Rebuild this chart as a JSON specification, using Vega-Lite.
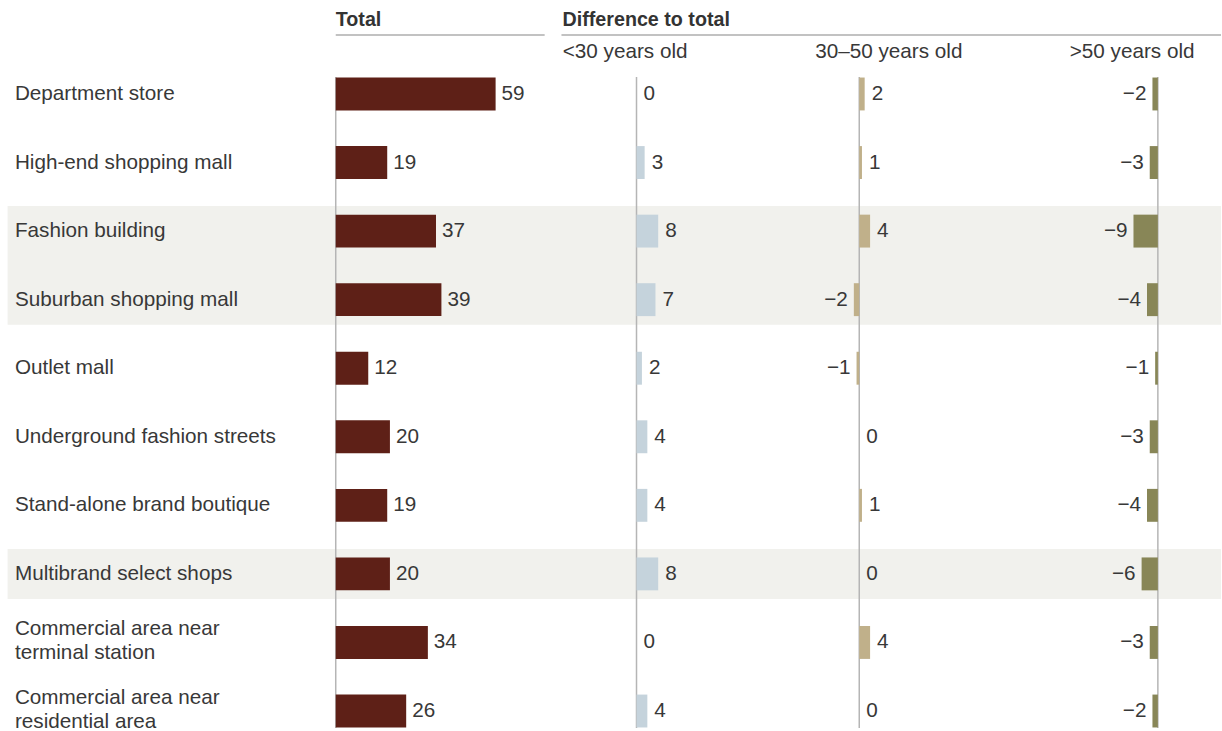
{
  "$schema": "https://vega.github.io/schema/vega-lite/v6.json",
  "width": 1222,
  "height": 731,
  "autosize": {"type": "fit", "contains": "padding"},
  "padding": 0,
  "background": "white",
  "config": {"view": {"stroke": null}, "font": "Liberation Sans"},
  "datasets": {
    "rows": [
      {"label": "Department store", "total": 59, "u30": 0, "m3050": 2, "o50": -2},
      {"label": "High-end shopping mall", "total": 19, "u30": 3, "m3050": 1, "o50": -3},
      {"label": "Fashion building", "total": 37, "u30": 8, "m3050": 4, "o50": -9},
      {"label": "Suburban shopping mall", "total": 39, "u30": 7, "m3050": -2, "o50": -4},
      {"label": "Outlet mall", "total": 12, "u30": 2, "m3050": -1, "o50": -1},
      {"label": "Underground fashion streets", "total": 20, "u30": 4, "m3050": 0, "o50": -3},
      {"label": "Stand-alone brand boutique", "total": 19, "u30": 4, "m3050": 1, "o50": -4},
      {"label": "Multibrand select shops", "total": 20, "u30": 8, "m3050": 0, "o50": -6},
      {"label": "Commercial area near\nterminal station", "total": 34, "u30": 0, "m3050": 4, "o50": -3},
      {"label": "Commercial area near\nresidential area", "total": 26, "u30": 4, "m3050": 0, "o50": -2}
    ],
    "bands": [
      {"from": "Fashion building", "to": "Suburban shopping mall"},
      {"from": "Multibrand select shops", "to": "Multibrand select shops"}
    ],
    "span": [
      {"from": "Department store", "to": "Commercial area near\nresidential area"}
    ],
    "one": [{"a": 1}]
  },
  "resolve": {"scale": {"x": "independent"}},
  "layer": [
    {
      "layer": [
        {
          "data": {"name": "bands"},
          "mark": {"type": "rect", "color": "#f1f1ed", "yOffset": -25, "y2Offset": 25},
          "encoding": {
            "x": {"datum": -121.1, "type": "quantitative", "scale": {"domain": [-123.9, 326.7], "nice": false, "zero": false}, "axis": null},
            "x2": {"datum": 326.7},
            "y": {"field": "from", "type": "nominal", "axis": null, "sort": null, "bandPosition": 0.5,
              "scale": {"domain": ["Department store", "High-end shopping mall", "Fashion building", "Suburban shopping mall", "Outlet mall", "Underground fashion streets", "Stand-alone brand boutique", "Multibrand select shops", "Commercial area near\nterminal station", "Commercial area near\nresidential area"], "range": [59.7, 745.3], "paddingInner": 0, "paddingOuter": 0}},
            "y2": {"field": "to"}
          }
        },
        {
          "data": {"name": "rows"},
          "transform": [{"filter": "indexof(datum.label, '\\n') < 0"}],
          "mark": {"type": "text", "align": "left", "baseline": "middle", "fontSize": 20.7, "lineBreak": "\n", "lineHeight": 24, "color": "#383838"},
          "encoding": {
            "x": {"datum": -118.4, "type": "quantitative", "scale": {"domain": [-123.9, 326.7], "nice": false, "zero": false}, "axis": null},
            "y": {"field": "label", "type": "nominal", "axis": null, "sort": null},
            "text": {"field": "label"}
          }
        },
        {
          "data": {"name": "rows"},
          "transform": [{"filter": "indexof(datum.label, '\\n') >= 0"}],
          "mark": {"type": "text", "align": "left", "baseline": "middle", "dy": -13, "fontSize": 20.7, "lineBreak": "\n", "lineHeight": 23.5, "color": "#383838"},
          "encoding": {
            "x": {"datum": -118.4, "type": "quantitative", "scale": {"domain": [-123.9, 326.7], "nice": false, "zero": false}, "axis": null},
            "y": {"field": "label", "type": "nominal", "axis": null, "sort": null},
            "text": {"field": "label"}
          }
        },
        {
          "data": {"name": "span"},
          "mark": {"type": "rule", "color": "#b5b5b5", "strokeWidth": 1.5, "yOffset": -17, "y2Offset": 17},
          "encoding": {
            "x": {"datum": 0, "type": "quantitative", "scale": {"domain": [-123.9, 326.7], "nice": false, "zero": false}, "axis": null},
            "y": {"field": "from", "type": "nominal", "axis": null, "sort": null, "bandPosition": 0.5},
            "y2": {"field": "to"}
          }
        },
        {
          "data": {"name": "rows"},
          "mark": {"type": "bar", "color": "#5e2017", "height": {"band": 0.48}},
          "encoding": {
            "x": {"field": "total", "type": "quantitative", "scale": {"domain": [-123.9, 326.7], "nice": false, "zero": false}, "axis": null},
            "y": {"field": "label", "type": "nominal", "axis": null, "sort": null}
          }
        },
        {
          "data": {"name": "rows"},
          "mark": {"type": "text", "align": "left", "baseline": "middle", "dx": 6, "fontSize": 20.7, "color": "#383838"},
          "encoding": {
            "x": {"field": "total", "type": "quantitative", "scale": {"domain": [-123.9, 326.7], "nice": false, "zero": false}, "axis": null},
            "y": {"field": "label", "type": "nominal", "axis": null, "sort": null},
            "text": {"field": "total", "type": "quantitative", "format": "d"}
          }
        },
        {
          "data": {"name": "one"},
          "mark": {"type": "text", "align": "left", "baseline": "middle", "fontSize": 19.7, "fontWeight": "bold", "color": "#333333", "text": "Total"},
          "encoding": {
            "x": {"datum": 0, "type": "quantitative", "scale": {"domain": [-123.9, 326.7], "nice": false, "zero": false}, "axis": null},
            "y": {"value": 20}
          }
        },
        {
          "data": {"name": "one"},
          "mark": {"type": "text", "align": "left", "baseline": "middle", "fontSize": 19.7, "fontWeight": "bold", "color": "#333333", "text": "Difference to total"},
          "encoding": {
            "x": {"datum": 83.7, "type": "quantitative", "scale": {"domain": [-123.9, 326.7], "nice": false, "zero": false}, "axis": null},
            "y": {"value": 20}
          }
        },
        {
          "data": {"name": "one"},
          "mark": {"type": "rule", "color": "#c2c2c2", "strokeWidth": 2},
          "encoding": {
            "x": {"datum": 0, "type": "quantitative", "scale": {"domain": [-123.9, 326.7], "nice": false, "zero": false}, "axis": null},
            "x2": {"datum": 77.1},
            "y": {"value": 35}
          }
        },
        {
          "data": {"name": "one"},
          "mark": {"type": "rule", "color": "#c2c2c2", "strokeWidth": 2},
          "encoding": {
            "x": {"datum": 83.3, "type": "quantitative", "scale": {"domain": [-123.9, 326.7], "nice": false, "zero": false}, "axis": null},
            "x2": {"datum": 326.7},
            "y": {"value": 35}
          }
        }
      ]
    },
    {
      "layer": [
        {
          "data": {"name": "span"},
          "mark": {"type": "rule", "color": "#b5b5b5", "strokeWidth": 1.5, "yOffset": -17, "y2Offset": 17},
          "encoding": {
            "x": {"datum": 0, "type": "quantitative", "scale": {"domain": [-234.9, 215.7], "nice": false, "zero": false}, "axis": null},
            "y": {"field": "from", "type": "nominal", "axis": null, "sort": null, "bandPosition": 0.5},
            "y2": {"field": "to"}
          }
        },
        {
          "data": {"name": "rows"},
          "mark": {"type": "bar", "color": "#c5d3dc", "height": {"band": 0.48}},
          "encoding": {
            "x": {"field": "u30", "type": "quantitative", "scale": {"domain": [-234.9, 215.7], "nice": false, "zero": false}, "axis": null},
            "y": {"field": "label", "type": "nominal", "axis": null, "sort": null}
          }
        },
        {
          "data": {"name": "rows"},
          "transform": [{"filter": "datum.u30 >= 0"}],
          "mark": {"type": "text", "align": "left", "baseline": "middle", "dx": 7, "fontSize": 20.7, "color": "#383838"},
          "encoding": {
            "x": {"field": "u30", "type": "quantitative", "scale": {"domain": [-234.9, 215.7], "nice": false, "zero": false}, "axis": null},
            "y": {"field": "label", "type": "nominal", "axis": null, "sort": null},
            "text": {"field": "u30", "type": "quantitative", "format": "d"}
          }
        },
        {
          "data": {"name": "one"},
          "mark": {"type": "text", "align": "center", "baseline": "middle", "fontSize": 20.7, "color": "#383838", "text": "<30 years old"},
          "encoding": {
            "x": {"datum": -4.2, "type": "quantitative", "scale": {"domain": [-234.9, 215.7], "nice": false, "zero": false}, "axis": null},
            "y": {"value": 52}
          }
        }
      ]
    },
    {
      "layer": [
        {
          "data": {"name": "span"},
          "mark": {"type": "rule", "color": "#b5b5b5", "strokeWidth": 1.5, "yOffset": -17, "y2Offset": 17},
          "encoding": {
            "x": {"datum": 0, "type": "quantitative", "scale": {"domain": [-317.1, 133.5], "nice": false, "zero": false}, "axis": null},
            "y": {"field": "from", "type": "nominal", "axis": null, "sort": null, "bandPosition": 0.5},
            "y2": {"field": "to"}
          }
        },
        {
          "data": {"name": "rows"},
          "mark": {"type": "bar", "color": "#c0b08a", "height": {"band": 0.48}},
          "encoding": {
            "x": {"field": "m3050", "type": "quantitative", "scale": {"domain": [-317.1, 133.5], "nice": false, "zero": false}, "axis": null},
            "y": {"field": "label", "type": "nominal", "axis": null, "sort": null}
          }
        },
        {
          "data": {"name": "rows"},
          "transform": [{"filter": "datum.m3050 >= 0"}],
          "mark": {"type": "text", "align": "left", "baseline": "middle", "dx": 7, "fontSize": 20.7, "color": "#383838"},
          "encoding": {
            "x": {"field": "m3050", "type": "quantitative", "scale": {"domain": [-317.1, 133.5], "nice": false, "zero": false}, "axis": null},
            "y": {"field": "label", "type": "nominal", "axis": null, "sort": null},
            "text": {"field": "m3050", "type": "quantitative", "format": "d"}
          }
        },
        {
          "data": {"name": "rows"},
          "transform": [{"filter": "datum.m3050 < 0"}],
          "mark": {"type": "text", "align": "right", "baseline": "middle", "dx": -6, "fontSize": 20.7, "color": "#383838"},
          "encoding": {
            "x": {"field": "m3050", "type": "quantitative", "scale": {"domain": [-317.1, 133.5], "nice": false, "zero": false}, "axis": null},
            "y": {"field": "label", "type": "nominal", "axis": null, "sort": null},
            "text": {"field": "m3050", "type": "quantitative", "format": "d"}
          }
        },
        {
          "data": {"name": "one"},
          "mark": {"type": "text", "align": "center", "baseline": "middle", "fontSize": 20.7, "color": "#383838", "text": "30–50 years old"},
          "encoding": {
            "x": {"datum": 10.9, "type": "quantitative", "scale": {"domain": [-317.1, 133.5], "nice": false, "zero": false}, "axis": null},
            "y": {"value": 52}
          }
        }
      ]
    },
    {
      "layer": [
        {
          "data": {"name": "span"},
          "mark": {"type": "rule", "color": "#b5b5b5", "strokeWidth": 1.5, "yOffset": -17, "y2Offset": 17},
          "encoding": {
            "x": {"datum": 0, "type": "quantitative", "scale": {"domain": [-427.3, 23.3], "nice": false, "zero": false}, "axis": null},
            "y": {"field": "from", "type": "nominal", "axis": null, "sort": null, "bandPosition": 0.5},
            "y2": {"field": "to"}
          }
        },
        {
          "data": {"name": "rows"},
          "mark": {"type": "bar", "color": "#888657", "height": {"band": 0.48}},
          "encoding": {
            "x": {"field": "o50", "type": "quantitative", "scale": {"domain": [-427.3, 23.3], "nice": false, "zero": false}, "axis": null},
            "y": {"field": "label", "type": "nominal", "axis": null, "sort": null}
          }
        },
        {
          "data": {"name": "rows"},
          "mark": {"type": "text", "align": "right", "baseline": "middle", "dx": -6, "fontSize": 20.7, "color": "#383838"},
          "encoding": {
            "x": {"field": "o50", "type": "quantitative", "scale": {"domain": [-427.3, 23.3], "nice": false, "zero": false}, "axis": null},
            "y": {"field": "label", "type": "nominal", "axis": null, "sort": null},
            "text": {"field": "o50", "type": "quantitative", "format": "d"}
          }
        },
        {
          "data": {"name": "one"},
          "mark": {"type": "text", "align": "center", "baseline": "middle", "fontSize": 20.7, "color": "#383838", "text": ">50 years old"},
          "encoding": {
            "x": {"datum": -9.5, "type": "quantitative", "scale": {"domain": [-427.3, 23.3], "nice": false, "zero": false}, "axis": null},
            "y": {"value": 52}
          }
        }
      ]
    }
  ]
}
